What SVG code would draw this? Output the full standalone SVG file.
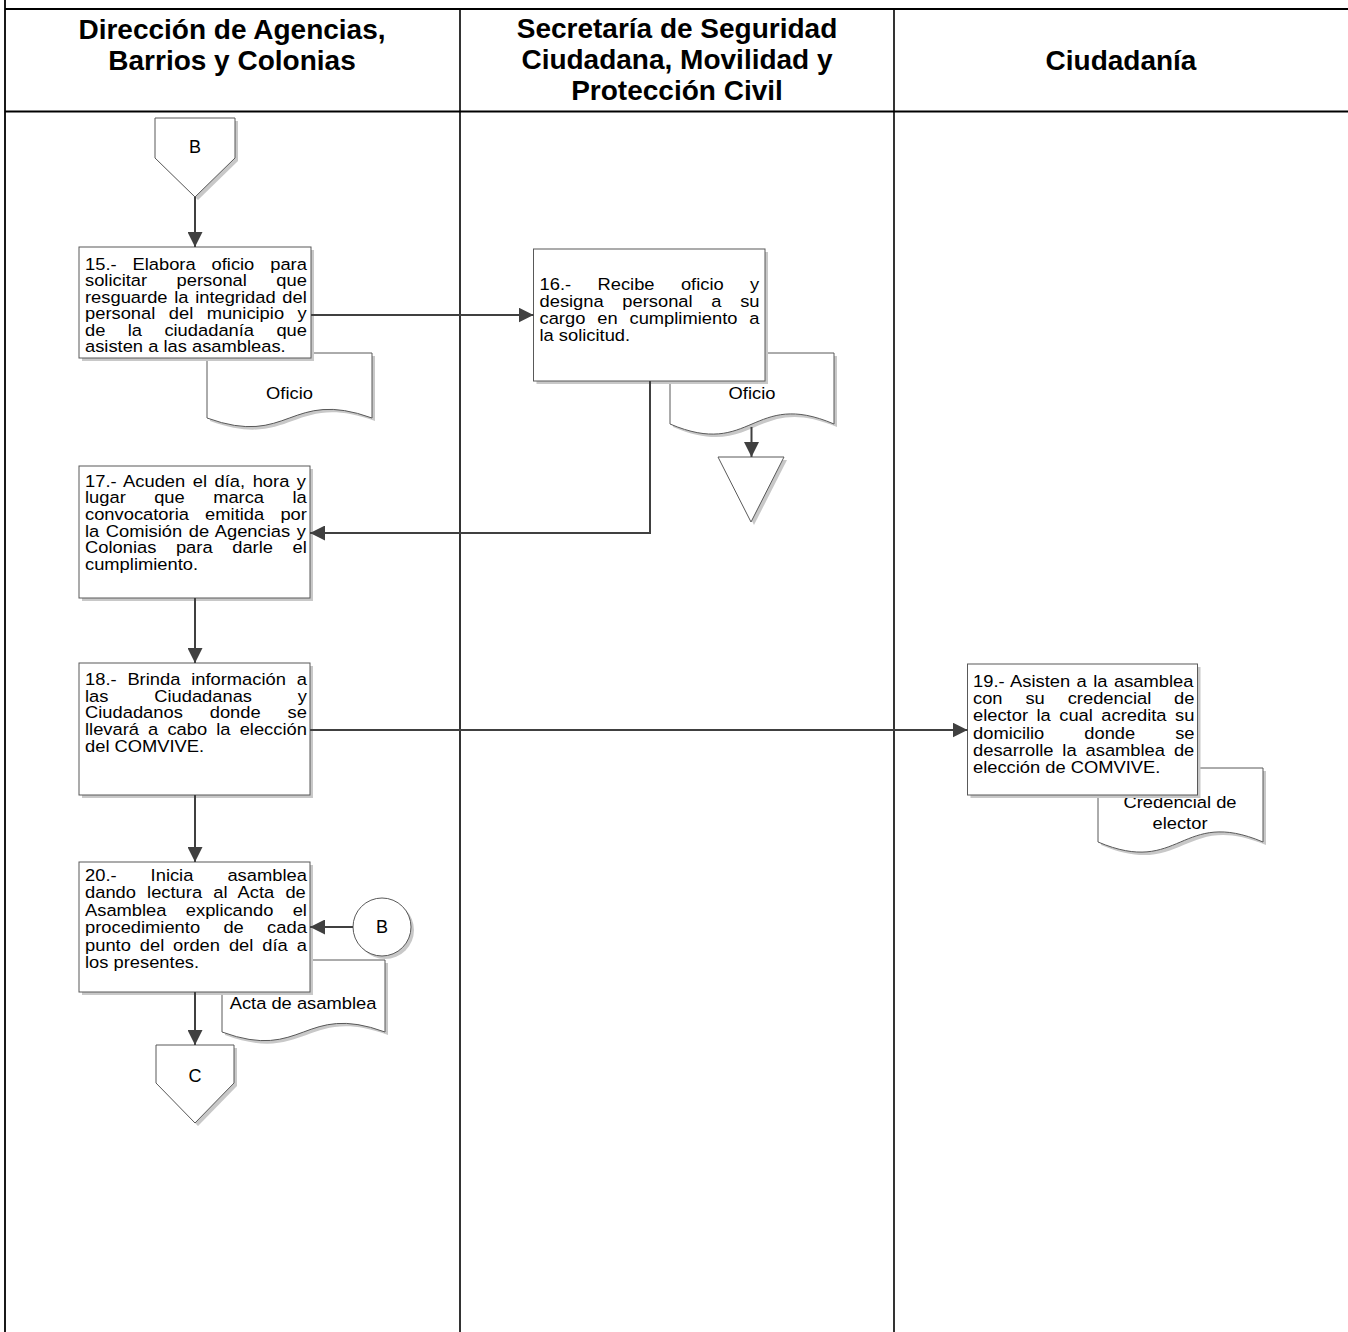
<svg xmlns="http://www.w3.org/2000/svg" width="1348" height="1332" viewBox="0 0 1348 1332">
<style>
.t{font-family:"Liberation Sans",Arial,sans-serif;font-size:17.3px;fill:#000}
.h{font-family:"Liberation Sans",Arial,sans-serif;font-size:28px;font-weight:bold;fill:#000;text-anchor:middle}
.m{text-anchor:middle}
.box{fill:#fff;stroke:#595959;stroke-width:1}
.sh{fill:#c8c8c8;stroke:none}
.ln{fill:none;stroke:#404040;stroke-width:2}
.lane{stroke:#000;fill:none}
</style>
<defs>
<marker id="ah" markerUnits="userSpaceOnUse" markerWidth="15" markerHeight="15" refX="15" refY="7.5" orient="auto">
<path d="M0,0 L15,7.5 L0,15 Z" fill="#404040"/>
</marker>
</defs>
<g id="lanes">
<line class="lane" x1="5" y1="0" x2="5" y2="1332" stroke-width="1.8"/>
<line class="lane" x1="5" y1="9" x2="1348" y2="9" stroke-width="2.2"/>
<line class="lane" x1="5" y1="111.5" x2="1348" y2="111.5" stroke-width="2"/>
<line class="lane" x1="460" y1="9" x2="460" y2="1332" stroke-width="1.6"/>
<line class="lane" x1="894" y1="9" x2="894" y2="1332" stroke-width="1.6"/>
<text class="h"><tspan x="232" y="39">Dirección de Agencias,</tspan><tspan x="232" y="70">Barrios y Colonias</tspan></text>
<text class="h"><tspan x="677" y="38">Secretaría de Seguridad</tspan><tspan x="677" y="69">Ciudadana, Movilidad y</tspan><tspan x="677" y="100">Protección Civil</tspan></text>
<text class="h" x="1121" y="70">Ciudadanía</text>
</g>

<g id="connB_top">
<polygon class="sh" points="158,121 238,121 238,161 198,200 158,161"/>
<polygon class="box" points="155,118 235,118 235,158 195,197 155,158"/>
<text class="t m" x="195" y="153" style="font-size:18px">B</text>
</g>

<g id="doc15">
<path class="sh" d="M210,356 H375 V421 C292.5,391 292.5,451 210,421 Z"/>
<path class="box" d="M207,353 H372 V418 C289.5,388 289.5,448 207,418 Z"/>
<text class="t m" transform="matrix(1.06 0 0 1 289.5 0)" x="0" y="399">Oficio</text>
</g>
<g id="box15">
<rect class="sh" x="82" y="250" width="232" height="111"/>
<rect class="box" x="79" y="247" width="232" height="111"/>
<text class="t" transform="matrix(1.06 0 0 1 85 0)">
<tspan x="0" y="270" word-spacing="10.2">15.- Elabora oficio para</tspan>
<tspan x="0" y="286.5" word-spacing="23">solicitar personal que</tspan>
<tspan x="0" y="303" word-spacing="1.5">resguarde la integridad del</tspan>
<tspan x="0" y="319.5" word-spacing="7.9">personal del municipio y</tspan>
<tspan x="0" y="336" word-spacing="16.3">de la ciudadanía que</tspan>
<tspan x="0" y="352.5" word-spacing="0">asisten a las asambleas.</tspan>
</text>
</g>

<g id="doc16">
<path class="sh" d="M673,356 H837 V427 C755,392 755,462 673,427 Z"/>
<path class="box" d="M670,353 H834 V424 C752,389 752,459 670,424 Z"/>
<text class="t m" transform="matrix(1.06 0 0 1 752 0)" x="0" y="399">Oficio</text>
</g>
<g id="box16">
<rect class="sh" x="536.5" y="252" width="231.5" height="132"/>
<rect class="box" x="533.5" y="249" width="231.5" height="132"/>
<text class="t" transform="matrix(1.06 0 0 1 539.5 0)">
<tspan x="0" y="290" word-spacing="20.1">16.- Recibe oficio y</tspan>
<tspan x="0" y="307" word-spacing="12.8">designa personal a su</tspan>
<tspan x="0" y="324" word-spacing="6.4">cargo en cumplimiento a</tspan>
<tspan x="0" y="341" word-spacing="0">la solicitud.</tspan>
</text>
</g>

<g id="store16">
<polygon class="sh" points="721,460 787,460 754,525"/>
<polygon class="box" points="718,457 784,457 751,522"/>
</g>

<g id="box17">
<rect class="sh" x="82" y="469" width="231" height="132"/>
<rect class="box" x="79" y="466" width="231" height="132"/>
<text class="t" transform="matrix(1.06 0 0 1 85 0)">
<tspan x="0" y="486.7" word-spacing="2.3">17.- Acuden el día, hora y</tspan>
<tspan x="0" y="503.4" word-spacing="22">lugar que marca la</tspan>
<tspan x="0" y="520.1" word-spacing="10.5">convocatoria emitida por</tspan>
<tspan x="0" y="536.8" word-spacing="1.4">la Comisión de Agencias y</tspan>
<tspan x="0" y="553.5" word-spacing="13.7">Colonias para darle el</tspan>
<tspan x="0" y="570.2" word-spacing="0">cumplimiento.</tspan>
</text>
</g>

<g id="box18">
<rect class="sh" x="82" y="666" width="231" height="132"/>
<rect class="box" x="79" y="663" width="231" height="132"/>
<text class="t" transform="matrix(1.06 0 0 1 85 0)">
<tspan x="0" y="685" word-spacing="5.4">18.- Brinda información a</tspan>
<tspan x="0" y="701.7" word-spacing="38.4">las Ciudadanas y</tspan>
<tspan x="0" y="718.4" word-spacing="20.6">Ciudadanos donde se</tspan>
<tspan x="0" y="735.1" word-spacing="3.8">llevará a cabo la elección</tspan>
<tspan x="0" y="751.8" word-spacing="0">del COMVIVE.</tspan>
</text>
</g>

<g id="docCred">
<path class="sh" d="M1101,771 H1266 V845 C1183.5,810 1183.5,880 1101,845 Z"/>
<path class="box" d="M1098,768 H1263 V842 C1180.5,807 1180.5,877 1098,842 Z"/>
<text class="t m" transform="matrix(1.06 0 0 1 1180 0)"><tspan x="0" y="808">Credencial de</tspan><tspan x="0" y="829">elector</tspan></text>
</g>
<g id="box19">
<rect class="sh" x="970.5" y="667" width="230" height="131"/>
<rect class="box" x="967.5" y="664" width="230" height="131"/>
<text class="t" transform="matrix(1.06 0 0 1 973 0)">
<tspan x="0" y="686.7" word-spacing="1.3">19.- Asisten a la asamblea</tspan>
<tspan x="0" y="704" word-spacing="16.8">con su credencial de</tspan>
<tspan x="0" y="721.3" word-spacing="3.2">elector la cual acredita su</tspan>
<tspan x="0" y="738.6" word-spacing="32.9">domicilio donde se</tspan>
<tspan x="0" y="755.9" word-spacing="3.6">desarrolle la asamblea de</tspan>
<tspan x="0" y="773.2" word-spacing="0">elección de COMVIVE.</tspan>
</text>
</g>

<g id="docActa">
<path class="sh" d="M225,963 H388 V1035 C306.5,1005 306.5,1065 225,1035 Z"/>
<path class="box" d="M222,960 H385 V1032 C303.5,1002 303.5,1062 222,1032 Z"/>
<text class="t m" transform="matrix(1.06 0 0 1 303 0)" x="0" y="1009">Acta de asamblea</text>
</g>
<g id="box20">
<rect class="sh" x="82" y="865" width="231" height="130"/>
<rect class="box" x="79" y="862" width="231" height="130"/>
<text class="t" transform="matrix(1.06 0 0 1 85 0)">
<tspan x="0" y="881" word-spacing="27.3">20.- Inicia asamblea</tspan>
<tspan x="0" y="898.5" word-spacing="5.7">dando lectura al Acta de</tspan>
<tspan x="0" y="916" word-spacing="13.4">Asamblea explicando el</tspan>
<tspan x="0" y="933.5" word-spacing="17.2">procedimiento de cada</tspan>
<tspan x="0" y="951" word-spacing="3.6">punto del orden del día a</tspan>
<tspan x="0" y="968.5" word-spacing="0">los presentes.</tspan>
</text>
</g>

<g id="connB_circle">
<circle class="sh" cx="385" cy="930" r="29"/>
<circle class="box" cx="382" cy="927" r="29"/>
<text class="t m" x="382" y="933" style="font-size:18px">B</text>
</g>

<g id="connC">
<polygon class="sh" points="159,1048 237,1048 237,1086 198,1126 159,1086"/>
<polygon class="box" points="156,1045 234,1045 234,1083 195,1123 156,1083"/>
<text class="t m" x="195" y="1082" style="font-size:18px">C</text>
</g>

<g id="connectors">
<path class="ln" d="M195,197 V247" marker-end="url(#ah)"/>
<path class="ln" d="M311,315 H533.5" marker-end="url(#ah)"/>
<path class="ln" d="M650,381 V533 H310" marker-end="url(#ah)"/>
<path class="ln" d="M751.5,427 V457" marker-end="url(#ah)"/>
<path class="ln" d="M195,598 V663" marker-end="url(#ah)"/>
<path class="ln" d="M310,730 H967.5" marker-end="url(#ah)"/>
<path class="ln" d="M195,795 V862" marker-end="url(#ah)"/>
<path class="ln" d="M353,927 H310" marker-end="url(#ah)"/>
<path class="ln" d="M195,992 V1045" marker-end="url(#ah)"/>
</g>
</svg>
